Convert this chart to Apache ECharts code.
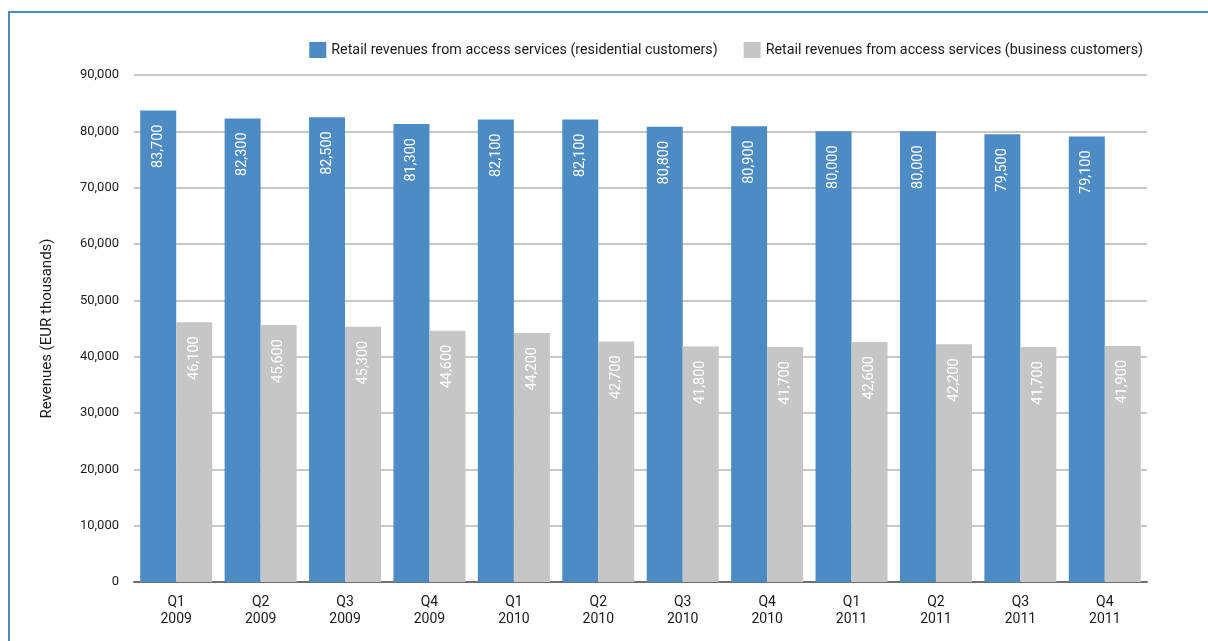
<!DOCTYPE html>
<html>
<head>
<meta charset="utf-8">
<script src="https://cdn.jsdelivr.net/npm/echarts@6/dist/echarts.min.js"></script>
<style>
  html, body { margin: 0; padding: 0; background: #fff; }
  #chart { width: 1208px; height: 641px; }
</style>
</head>
<body>
<div id="chart"></div>
<script>
// Quarterly retail revenues from access services, EUR thousands
const quarters = ['Q1\n2009', 'Q2\n2009', 'Q3\n2009', 'Q4\n2009',
                  'Q1\n2010', 'Q2\n2010', 'Q3\n2010', 'Q4\n2010',
                  'Q1\n2011', 'Q2\n2011', 'Q3\n2011', 'Q4\n2011'];
const residential = [83700, 82300, 82500, 81300, 82100, 82100, 80800, 80900, 80000, 80000, 79500, 79100];
const business = [46100, 45600, 45300, 44600, 44200, 42700, 41800, 41700, 42600, 42200, 41700, 41900];
const seriesNames = ['Retail revenues from access services (residential customers)',
                     'Retail revenues from access services (business customers)'];

const FONT = 'Roboto, "Liberation Sans", sans-serif';
const fmt = v => v.toLocaleString('en-US');

const barLabel = {
  show: true,
  position: 'insideTop',
  rotate: 90,
  align: 'right',
  verticalAlign: 'middle',
  distance: 14,
  color: '#ffffff',
  fontFamily: FONT,
  fontSize: 14.5,
  formatter: p => fmt(p.value)
};

const chart = echarts.init(document.getElementById('chart'), null, { renderer: 'canvas' });
chart.setOption({
  animation: false,
  textStyle: { fontFamily: FONT },
  graphic: [{
    type: 'polyline',
    shape: { points: [[9, 641], [9, 12], [1208, 12]] },
    style: { stroke: '#4f8ac6', lineWidth: 2, fill: null },
    silent: true
  }],
  legend: {
    right: 60,
    top: 37,
    itemWidth: 17,
    itemHeight: 16,
    itemGap: 26,
    icon: 'rect',
    textStyle: { fontFamily: FONT, fontSize: 14.3, color: '#1a1a1a' },
    data: seriesNames
  },
  grid: { left: 134, right: 61, top: 75, bottom: 59, containLabel: false },
  xAxis: {
    type: 'category',
    data: quarters,
    axisTick: { show: false },
    axisLine: { lineStyle: { color: '#707070', width: 2 } },
    axisLabel: { color: '#1a1a1a', fontFamily: FONT, fontSize: 14, lineHeight: 17, margin: 12 }
  },
  yAxis: {
    type: 'value',
    min: 0,
    max: 90000,
    interval: 10000,
    name: 'Revenues (EUR thousands)',
    nameLocation: 'middle',
    nameGap: 79,
    nameTextStyle: { fontFamily: FONT, fontSize: 15, color: '#1a1a1a' },
    axisLine: { show: false },
    axisTick: { show: false },
    splitLine: { lineStyle: { color: '#b4b4b4', width: 1.5 } },
    axisLabel: { color: '#1a1a1a', fontFamily: FONT, fontSize: 13, margin: 15, formatter: v => fmt(v) }
  },
  series: [
    {
      name: seriesNames[0],
      type: 'bar',
      data: residential,
      barWidth: 36,
      barGap: '0%',
      itemStyle: { color: '#4d8bc4' },
      label: barLabel
    },
    {
      name: seriesNames[1],
      type: 'bar',
      data: business,
      barWidth: 36,
      barGap: '0%',
      itemStyle: { color: '#c6c6c6' },
      label: barLabel
    }
  ]
});
</script>
</body>
</html>
